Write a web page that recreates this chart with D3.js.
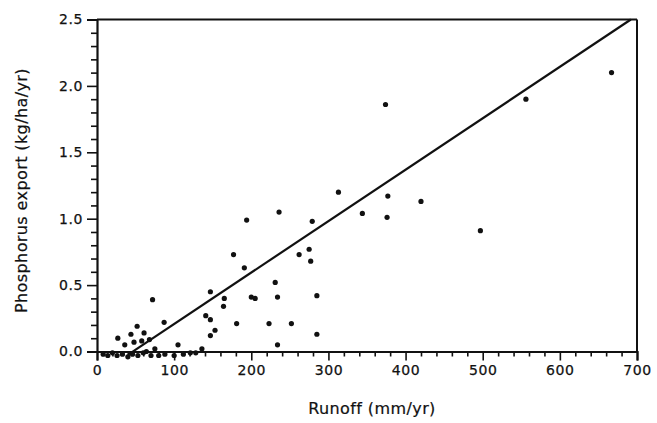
<!DOCTYPE html>
<html>
<head>
<meta charset="utf-8">
<script src="https://cdn.jsdelivr.net/npm/d3@7"></script>
<style>
  html, body { margin: 0; padding: 0; background: #fff; }
  svg { display: block; }
  text { font-family: "DejaVu Sans", "Liberation Sans", sans-serif; fill: #111; }
</style>
</head>
<body>
<svg id="chart" width="657" height="423"></svg>
<script>
// Data
const runoff = [667, 374, 556, 377, 420, 344, 376, 497, 313, 236, 194, 279, 275, 262, 277, 191,
  231, 200, 205, 234, 285, 223, 252, 285, 234, 177, 147, 165, 164, 72, 141, 147, 181, 153, 147,
  87, 52, 44, 61, 27, 48, 58, 68, 36, 105, 136, 75, 64, 80, 121,
  8, 14, 20, 26, 33, 40, 46, 53, 60, 70, 88, 100, 112, 128];
const phosphorus = [2.10, 1.86, 1.90, 1.17, 1.13, 1.04, 1.01, 0.91, 1.20, 1.05, 0.99, 0.98, 0.77, 0.73, 0.68, 0.63,
  0.52, 0.41, 0.40, 0.41, 0.42, 0.21, 0.21, 0.13, 0.05, 0.73, 0.45, 0.40, 0.34, 0.39, 0.27, 0.24, 0.21, 0.16, 0.12,
  0.22, 0.19, 0.13, 0.14, 0.10, 0.07, 0.08, 0.09, 0.05, 0.05, 0.02, 0.02, 0.00, -0.03, -0.01,
  -0.02, -0.03, -0.01, -0.03, -0.02, -0.04, -0.02, -0.03, -0.01, -0.03, -0.02, -0.03, -0.02, -0.01];
const fitRunoff = [40, 692];
const fitPhosphorus = [-0.025, 2.5];
const xTickValues = [0, 100, 200, 300, 400, 500, 600, 700];
const yTickValues = [0.0, 0.5, 1.0, 1.5, 2.0, 2.5];
const xTitle = "Runoff (mm/yr)";
const yTitle = "Phosphorus export (kg/ha/yr)";

(function () {
const svg = d3.select("#chart");
const pLeft = 97, pRight = 637, pTop = 19.5, pBottom = 351.5;

const x = d3.scaleLinear().domain([0, 700]).range([pLeft, pRight]);
const y = d3.scaleLinear().domain([0, 2.5]).range([pBottom, pTop]);

svg.append("rect").attr("width", 657).attr("height", 423).attr("fill", "#fff");

// minor ticks
const xMinor = d3.range(0, 701, 20).filter(v => v % 100 !== 0);
const yMinor = d3.range(0, 26).map(v => v / 10).filter(v => Math.round(v * 10) % 5 !== 0);

const gx = svg.append("g").attr("transform", `translate(0,${pBottom})`);
gx.call(d3.axisBottom(x).tickValues(xMinor).tickSize(5).tickFormat(""))
  .call(g => g.select(".domain").remove());
gx.selectAll("line").attr("stroke", "#111").attr("stroke-width", 1.6);
const gx2 = svg.append("g").attr("transform", `translate(0,${pBottom})`);
gx2.call(d3.axisBottom(x).tickValues(xTickValues).tickSize(9).tickPadding(5).tickFormat(d3.format("d")));
gx2.select(".domain").attr("stroke", "#111").attr("stroke-width", 2.2);
gx2.selectAll("line").attr("stroke", "#111").attr("stroke-width", 1.6);
gx2.selectAll("text").attr("font-size", 14).attr("letter-spacing", "0.6px").attr("fill", "#111")
  .attr("stroke", "#111").attr("stroke-width", 0.25)
  .attr("font-family", "DejaVu Sans, sans-serif");

const gy = svg.append("g").attr("transform", `translate(${pLeft},0)`);
gy.call(d3.axisLeft(y).tickValues(yMinor).tickSize(6).tickFormat(""))
  .call(g => g.select(".domain").remove());
gy.selectAll("line").attr("stroke", "#111").attr("stroke-width", 1.6);
const gy2 = svg.append("g").attr("transform", `translate(${pLeft},0)`);
gy2.call(d3.axisLeft(y).tickValues(yTickValues).tickSize(10).tickPadding(4).tickFormat(d3.format(".1f")));
gy2.select(".domain").attr("stroke", "#111").attr("stroke-width", 2.2);
gy2.selectAll("line").attr("stroke", "#111").attr("stroke-width", 1.6);
gy2.selectAll("text").attr("font-size", 14).attr("letter-spacing", "0.6px").attr("fill", "#111")
  .attr("stroke", "#111").attr("stroke-width", 0.25)
  .attr("font-family", "DejaVu Sans, sans-serif");

// frame top and right
svg.append("line").attr("x1", pLeft).attr("x2", pRight).attr("y1", pTop).attr("y2", pTop)
  .attr("stroke", "#111").attr("stroke-width", 2);
svg.append("line").attr("x1", pRight).attr("x2", pRight).attr("y1", pTop).attr("y2", pBottom)
  .attr("stroke", "#111").attr("stroke-width", 2);

// regression line
const fit = fitRunoff.map((r, i) => [r, fitPhosphorus[i]]);
svg.append("path").datum(fit)
  .attr("d", d3.line().x(d => x(d[0])).y(d => y(d[1])))
  .attr("fill", "none").attr("stroke", "#111").attr("stroke-width", 2.2);

// points
svg.append("g").selectAll("circle").data(runoff.map((r, i) => [r, phosphorus[i]]))
  .join("circle")
  .attr("cx", d => x(d[0])).attr("cy", d => y(d[1])).attr("r", 2.6)
  .attr("fill", "#111");

// titles
svg.append("text").attr("x", (pLeft + pRight) / 2 + 5).attr("y", 414)
  .attr("text-anchor", "middle").attr("font-size", 16).attr("letter-spacing", "0.4px")
  .attr("stroke", "#111").attr("stroke-width", 0.2)
  .text(xTitle);
svg.append("text").attr("transform", `translate(27,${(pTop + pBottom) / 2 + 5}) rotate(-90)`)
  .attr("text-anchor", "middle").attr("font-size", 16).attr("letter-spacing", "0.4px")
  .attr("stroke", "#111").attr("stroke-width", 0.2)
  .text(yTitle);
})();
</script>
</body>
</html>
